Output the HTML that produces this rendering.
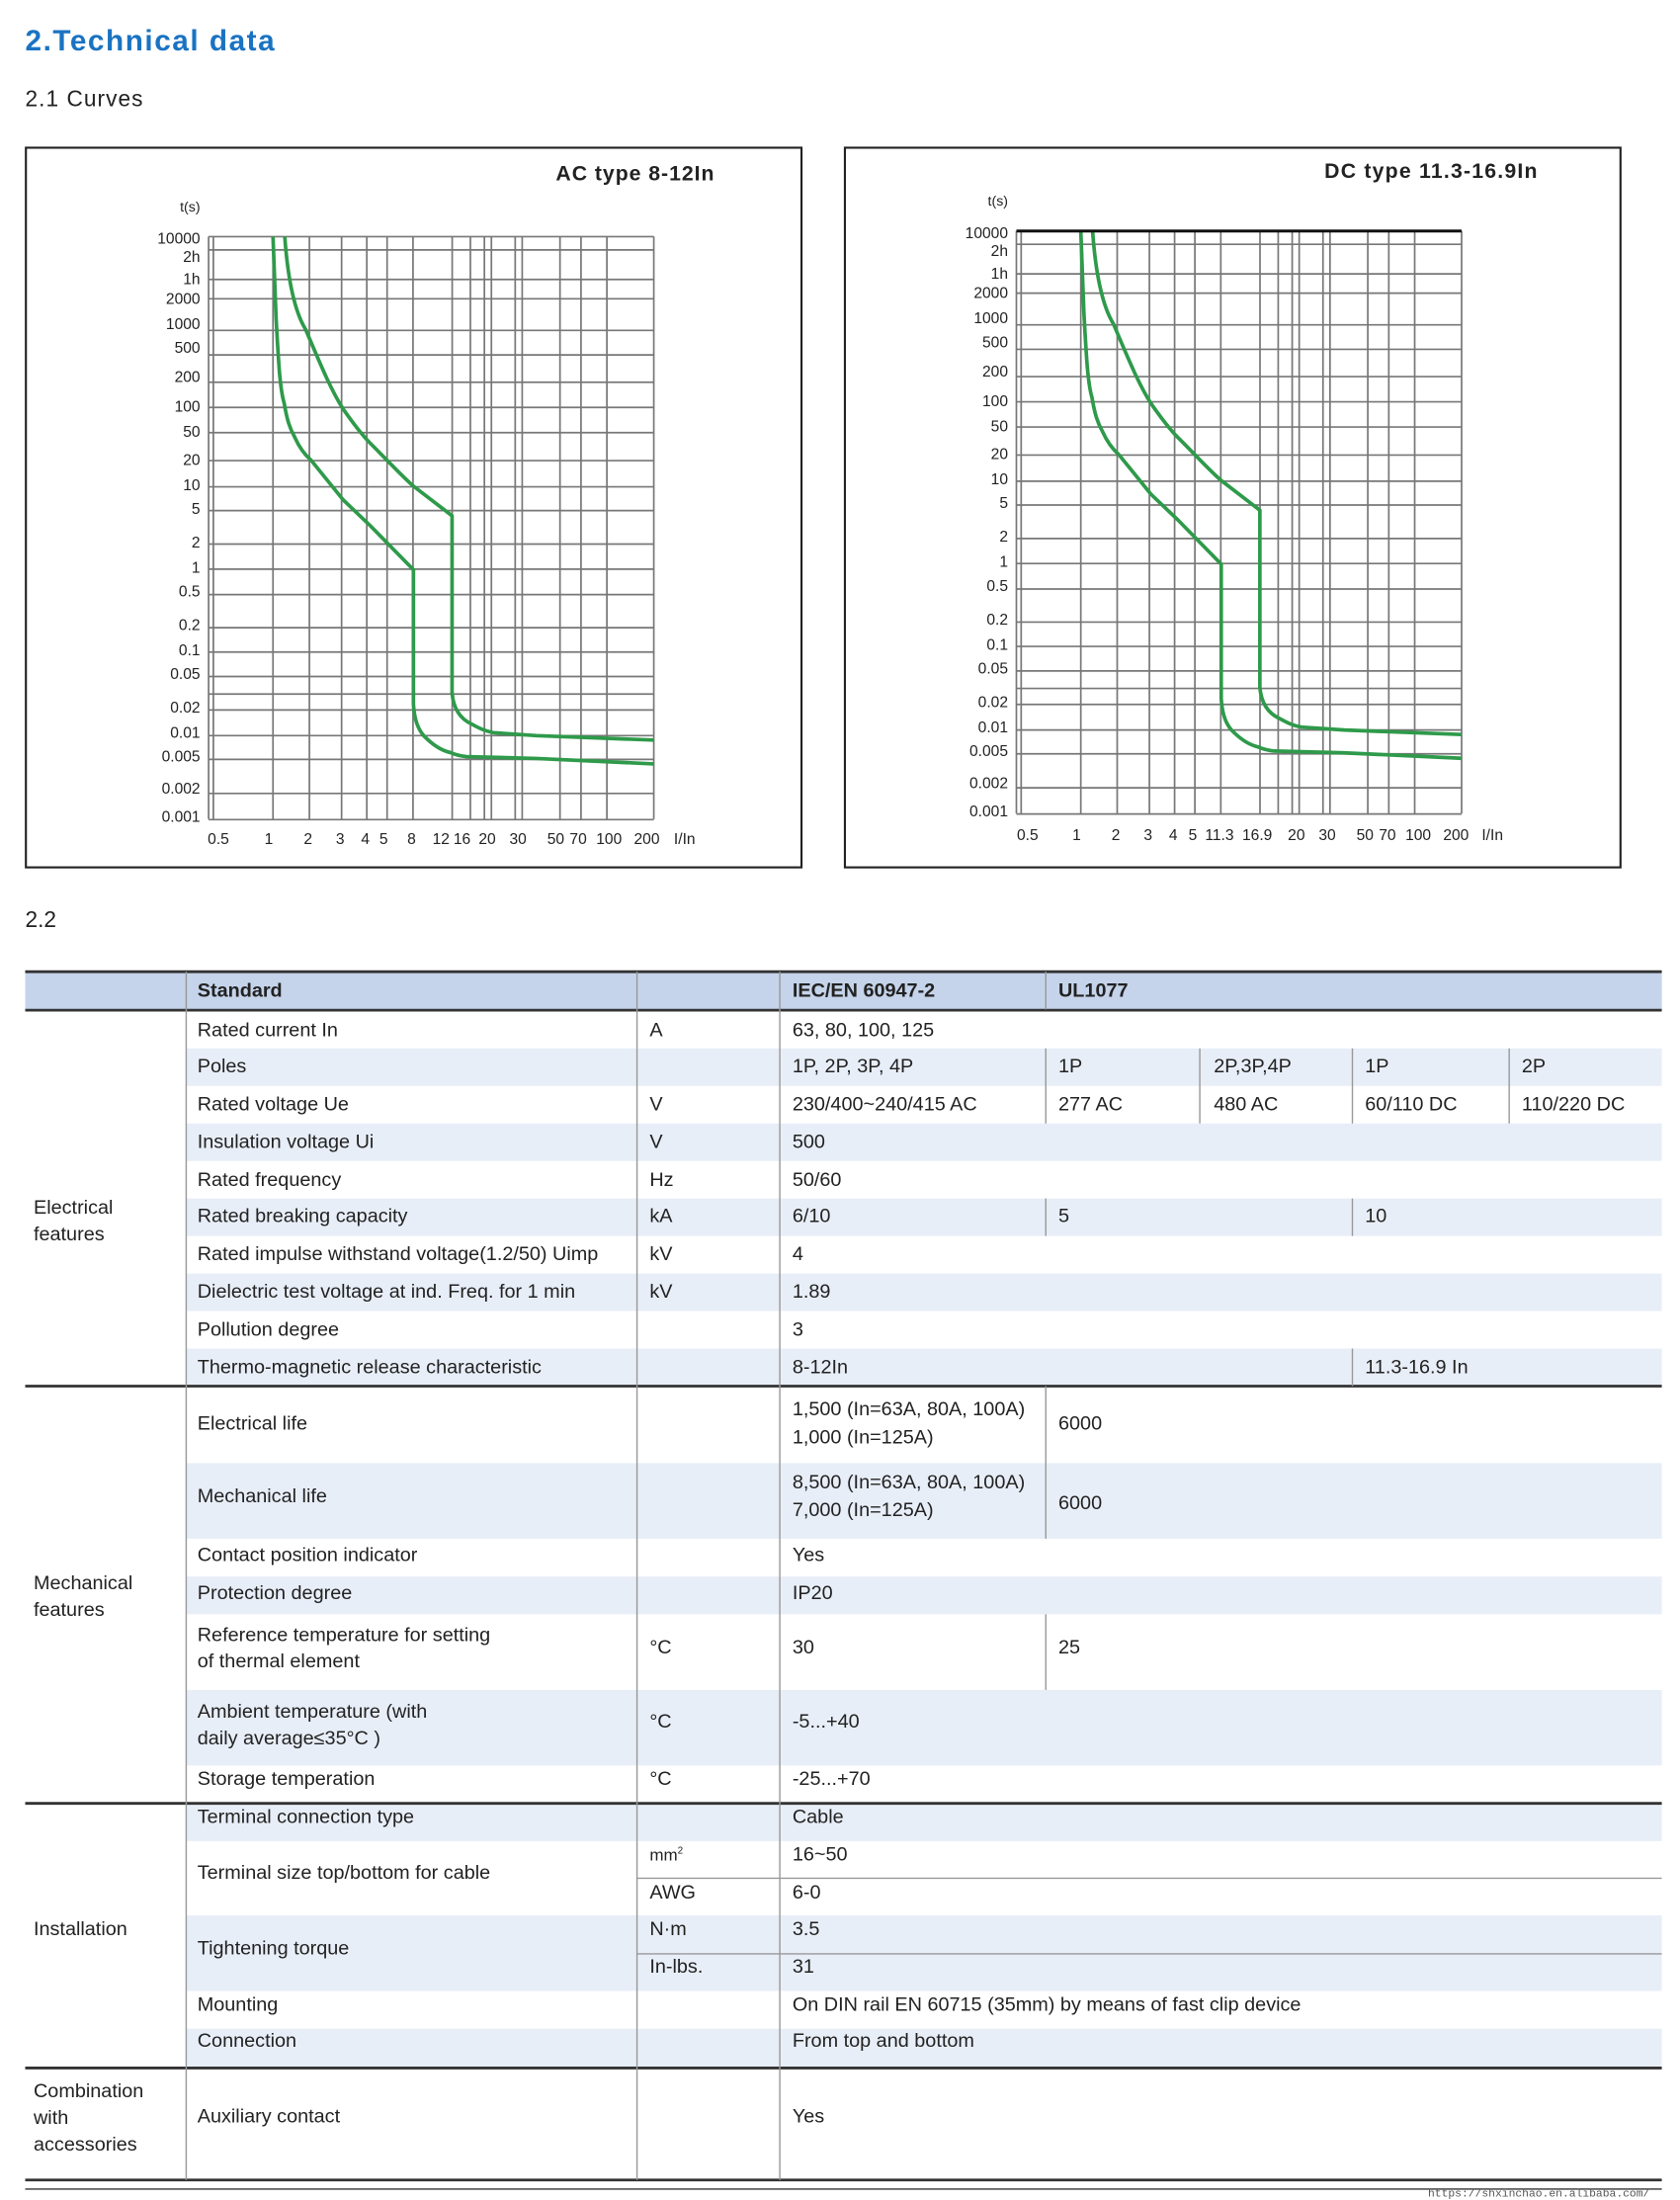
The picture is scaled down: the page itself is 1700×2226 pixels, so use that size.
<!DOCTYPE html>
<html><head><meta charset="utf-8"><style>
html,body{margin:0;padding:0;background:#fff;}
svg{display:block;}
text{font-family:"Liberation Sans",sans-serif;fill:#222;}
</style></head><body>
<svg width="1700" height="2226" viewBox="0 0 1200 1571.3" preserveAspectRatio="none" xmlns="http://www.w3.org/2000/svg">
<rect width="1200" height="1572" fill="#fff"/>
<text x="18" y="36" font-size="21" font-weight="bold" style="fill:#1a73c2" textLength="178">2.Technical data</text>
<text x="18" y="76" font-size="16" textLength="84">2.1 Curves</text>

<defs>
<g id="grid" stroke="#777" stroke-width="1.2" fill="none">
<path d="M149 169V585M152.4 169V585M195 169V585M221 169V585M244 169V585M262 169V585M276.5 169V585M295 169V585M323 169V585M336 169V585M346 169V585M351 169V585M368 169V585M373 169V585M400 169V585M415 169V585M433.5 169V585M467 169V585"/>
<path d="M149 169H467M149 178.5H467M149 199.6H467M149 213.4H467M149 236H467M149 253.5H467M149 273H467M149 291H467M149 309H467M149 329H467M149 347.7H467M149 364.7H467M149 388.6H467M149 406.5H467M149 424.7H467M149 448.3H467M149 465.7H467M149 483.2H467M149 495.7H467M149 507.1H467M149 525.4H467M149 542.4H467M149 566.7H467M149 585.4H467"/>
</g>
<g id="curves" stroke="#2e9a4a" stroke-width="2.6" fill="none" stroke-linejoin="round">
<path d="M203.4 169 C206 205 212 225 218.3 235.3 C228 258 236 278 245.1 292.1 C252 302 258 310 264.3 316.4 C275 327 285 338 294.9 346.9 L322.9 368.4 L322.9 494.9 C324 508 330 514 337 517.2 C342 520 346 522 352.4 523.3 L383 525.4 L466.9 528.6"/>
<path d="M195 169 C196 200 197 220 197.2 227.2 C199 260 200 278 203 288 C205 300 207 306 210.6 312.4 C214 320 218 325 222.1 328.6 L245.1 357 L264.3 375.3 L295.3 406.9 L295.3 503 C296 515 299 521 302.6 525.4 C308 531 315 536 321.7 537.5 C325 539 329 540 333.2 540.4 L383 541.7 L466.9 545.6"/>
</g>
<g id="ylab" font-size="11" text-anchor="end">
<text x="143" y="174">10000</text><text x="143" y="187">2h</text><text x="143" y="203">1h</text><text x="143" y="217">2000</text><text x="143" y="235">1000</text><text x="143" y="252">500</text><text x="143" y="273">200</text><text x="143" y="294">100</text><text x="143" y="312">50</text><text x="143" y="332">20</text><text x="143" y="350">10</text><text x="143" y="367">5</text><text x="143" y="391">2</text><text x="143" y="409">1</text><text x="143" y="426">0.5</text><text x="143" y="450">0.2</text><text x="143" y="468">0.1</text><text x="143" y="485">0.05</text><text x="143" y="509">0.02</text><text x="143" y="527">0.01</text><text x="143" y="544">0.005</text><text x="143" y="567">0.002</text><text x="143" y="587">0.001</text>
<text x="143" y="151" font-size="10">t(s)</text>
</g>
</defs>

<rect x="18.5" y="105.5" width="554" height="514" fill="none" stroke="#222" stroke-width="1.5"/>
<text x="397" y="129" font-size="15" font-weight="bold" textLength="113">AC type 8-12In</text>
<use href="#grid"/><use href="#ylab"/><use href="#curves"/>
<g font-size="11" text-anchor="middle">
<text x="156" y="603">0.5</text><text x="192" y="603">1</text><text x="220" y="603">2</text><text x="243" y="603">3</text><text x="261" y="603">4</text><text x="274" y="603">5</text><text x="294" y="603">8</text><text x="315" y="603">12</text><text x="330" y="603">16</text><text x="348" y="603">20</text><text x="370" y="603">30</text><text x="397" y="603">50</text><text x="413" y="603">70</text><text x="435" y="603">100</text><text x="462" y="603">200</text><text x="489" y="603">I/In</text>
</g>

<rect x="603.5" y="105.5" width="554" height="514" fill="none" stroke="#222" stroke-width="1.5"/>
<text x="946" y="127" font-size="15" font-weight="bold" textLength="152">DC type 11.3-16.9In</text>
<g transform="translate(577,-4)">
<use href="#grid"/><use href="#ylab"/><use href="#curves"/>
<path d="M149 169H467" stroke="#111" stroke-width="2.2"/>
</g>
<g font-size="11" text-anchor="middle">
<text x="734" y="600">0.5</text><text x="769" y="600">1</text><text x="797" y="600">2</text><text x="820" y="600">3</text><text x="838" y="600">4</text><text x="852" y="600">5</text><text x="871" y="600">11.3</text><text x="898" y="600">16.9</text><text x="926" y="600">20</text><text x="948" y="600">30</text><text x="975" y="600">50</text><text x="991" y="600">70</text><text x="1013" y="600">100</text><text x="1040" y="600">200</text><text x="1066" y="600">I/In</text>
</g>

<text x="18" y="662" font-size="16">2.2</text>

<g fill="#e8eef8">
<rect x="18" y="694" width="1169" height="27" fill="#c5d4ea"/>
<rect x="133" y="748.8" width="1054" height="26.8"/>
<rect x="133" y="802.4" width="1054" height="26.8"/>
<rect x="133" y="856" width="1054" height="26.8"/>
<rect x="133" y="909.6" width="1054" height="26.8"/>
<rect x="133" y="963.2" width="1054" height="26.8"/>
<rect x="133" y="1045" width="1054" height="54"/>
<rect x="133" y="1126" width="1054" height="27"/>
<rect x="133" y="1207" width="1054" height="54"/>
<rect x="133" y="1288" width="1054" height="27"/>
<rect x="133" y="1368" width="1054" height="54"/>
<rect x="133" y="1449" width="1054" height="28"/>
</g>
<g stroke="#333" stroke-width="2" fill="none">
<path d="M18 694H1187M18 721.5H1187M18 990H1187M18 1288H1187M18 1477H1187M18 1557H1187"/>
</g>
<path d="M18 1563.5H1187" stroke="#333" stroke-width="1"/>
<g stroke="#999" stroke-width="1" fill="none">
<path d="M133 694V1557M455 694V1557M557 694V1557"/>
<path d="M747 694V721M747 748.8V802.4M747 856V882.8M857 748.8V802.4M966 748.8V802.4M966 856V882.8M1078 748.8V802.4M966 963.2V990"/>
<path d="M747 990V1099M747 1153V1207"/>
<path d="M455 1341.5H1187M455 1395.5H1187"/>
</g>

<g font-size="14">
<text x="141" y="712" font-weight="bold">Standard</text>
<text x="566" y="712" font-weight="bold">IEC/EN 60947-2</text>
<text x="756" y="712" font-weight="bold">UL1077</text>

<text x="24" y="867">Electrical</text><text x="24" y="886">features</text>
<text x="141" y="740">Rated current In</text><text x="464" y="740">A</text><text x="566" y="740">63, 80, 100, 125</text>
<text x="141" y="766">Poles</text><text x="566" y="766">1P, 2P, 3P, 4P</text><text x="756" y="766">1P</text><text x="867" y="766">2P,3P,4P</text><text x="975" y="766">1P</text><text x="1087" y="766">2P</text>
<text x="141" y="793">Rated voltage Ue</text><text x="464" y="793">V</text><text x="566" y="793">230/400~240/415 AC</text><text x="756" y="793">277 AC</text><text x="867" y="793">480 AC</text><text x="975" y="793">60/110 DC</text><text x="1087" y="793">110/220 DC</text>
<text x="141" y="820">Insulation voltage Ui</text><text x="464" y="820">V</text><text x="566" y="820">500</text>
<text x="141" y="847">Rated frequency</text><text x="464" y="847">Hz</text><text x="566" y="847">50/60</text>
<text x="141" y="873">Rated breaking capacity</text><text x="464" y="873">kA</text><text x="566" y="873">6/10</text><text x="756" y="873">5</text><text x="975" y="873">10</text>
<text x="141" y="900">Rated impulse withstand voltage(1.2/50) Uimp</text><text x="464" y="900">kV</text><text x="566" y="900">4</text>
<text x="141" y="927">Dielectric test voltage at ind. Freq. for 1 min</text><text x="464" y="927">kV</text><text x="566" y="927">1.89</text>
<text x="141" y="954">Pollution degree</text><text x="566" y="954">3</text>
<text x="141" y="981">Thermo-magnetic release characteristic</text><text x="566" y="981">8-12In</text><text x="975" y="981">11.3-16.9 In</text>

<text x="24" y="1135">Mechanical</text><text x="24" y="1154">features</text>
<text x="141" y="1021">Electrical life</text><text x="566" y="1011">1,500 (In=63A, 80A, 100A)</text><text x="566" y="1031">1,000 (In=125A)</text><text x="756" y="1021">6000</text>
<text x="141" y="1073">Mechanical life</text><text x="566" y="1063">8,500 (In=63A, 80A, 100A)</text><text x="566" y="1083">7,000 (In=125A)</text><text x="756" y="1078">6000</text>
<text x="141" y="1115">Contact position indicator</text><text x="566" y="1115">Yes</text>
<text x="141" y="1142">Protection degree</text><text x="566" y="1142">IP20</text>
<text x="141" y="1172">Reference temperature for setting</text><text x="141" y="1191">of thermal element</text><text x="464" y="1181">°C</text><text x="566" y="1181">30</text><text x="756" y="1181">25</text>
<text x="141" y="1227">Ambient temperature (with</text><text x="141" y="1246">daily average≤35°C )</text><text x="464" y="1234">°C</text><text x="566" y="1234">-5...+40</text>
<text x="141" y="1275">Storage temperation</text><text x="464" y="1275">°C</text><text x="566" y="1275">-25...+70</text>

<text x="24" y="1382">Installation</text>
<text x="141" y="1302">Terminal connection type</text><text x="566" y="1302">Cable</text>
<text x="141" y="1342">Terminal size top/bottom for cable</text><text x="464" y="1329" font-size="12">mm<tspan font-size="7" dy="-5">2</tspan></text><text x="566" y="1329">16~50</text>
<text x="464" y="1356">AWG</text><text x="566" y="1356">6-0</text>
<text x="141" y="1396">Tightening torque</text><text x="464" y="1382">N·m</text><text x="566" y="1382">3.5</text>
<text x="464" y="1409">In-lbs.</text><text x="566" y="1409">31</text>
<text x="141" y="1436">Mounting</text><text x="566" y="1436">On DIN rail EN 60715 (35mm) by means of fast clip device</text>
<text x="141" y="1462">Connection</text><text x="566" y="1462">From top and bottom</text>

<text x="24" y="1498">Combination</text><text x="24" y="1517">with</text><text x="24" y="1536">accessories</text>
<text x="141" y="1516">Auxiliary contact</text><text x="566" y="1516">Yes</text>
</g>
<text x="1020" y="1569" font-size="8" style="font-family:'Liberation Mono',monospace;fill:#555">https://shxinchao.en.alibaba.com/</text>
</svg>
</body></html>
